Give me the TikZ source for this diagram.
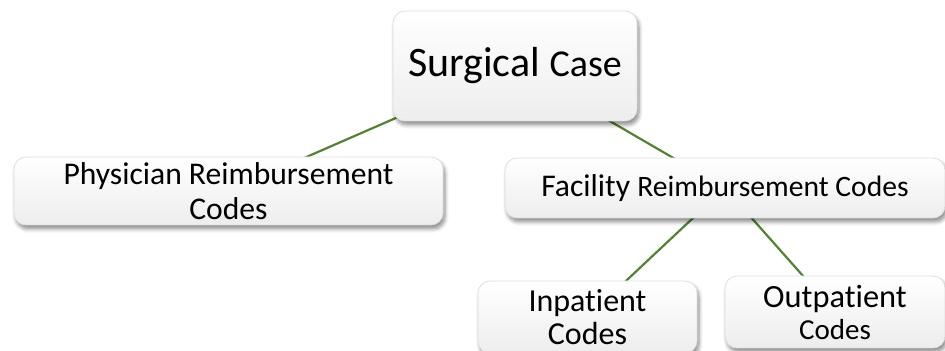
\documentclass[tikz,border=0pt]{standalone}
\usepackage{fontspec}
\setmainfont{Carlito}[Ligatures=NoCommon]
\usetikzlibrary{shadows.blur,backgrounds}
\definecolor{branchgreen}{RGB}{84,130,53}

\begin{document}
\begin{tikzpicture}[x=0.5pt,y=-0.5pt]
    \tikzstyle{box}=[rectangle, rounded corners=6pt, draw=gray!25, top color=white, bottom color=gray!14,
        blur shadow={shadow xshift=1pt, shadow yshift=-2pt, shadow blur steps=6, shadow opacity=45},
        align=center, inner sep=0pt]
    \tikzstyle{branch}=[branchgreen, line width=1.1pt]

    \useasboundingbox (0,0) rectangle (945,351);

    % top level
    \node[box, minimum width=122pt, minimum height=55pt] (surg) at (515,66)
        {\fontsize{21}{25}\selectfont Surgical \fontsize{19}{23}\selectfont Case};

    % second level
    \node[box, minimum width=214.5pt, minimum height=34pt, font=\fontsize{15.8}{17.5}\selectfont] (phys) at (228.5,191)
        {Physician Reimbursement\\Codes};
    \node[box, minimum width=220pt, minimum height=30pt] (fac) at (725,188)
        {\fontsize{15.8}{18}\selectfont Facility \fontsize{14.8}{18}\selectfont Reimbursement Codes};

    % third level
    \node[box, minimum width=109.5pt, minimum height=36pt, font=\fontsize{16}{16.5}\selectfont] (inpat) at (587.5,317)
        {Inpatient\\Codes};
    \node[box, minimum width=110pt, minimum height=36pt, font=\fontsize{16.2}{16}\selectfont] (outpat) at (835,312)
        {Outpatient\\\fontsize{14.5}{16}\selectfont Codes};

    % branches behind the boxes
    \begin{pgfonlayer}{background}
        \draw[branch] (surg.center) -- (phys.center);
        \draw[branch] (surg.center) -- (fac.center);
        \draw[branch] (fac.center) -- (inpat.center);
        \draw[branch] (fac.center) -- (outpat.center);
    \end{pgfonlayer}

\end{tikzpicture}
\end{document}
